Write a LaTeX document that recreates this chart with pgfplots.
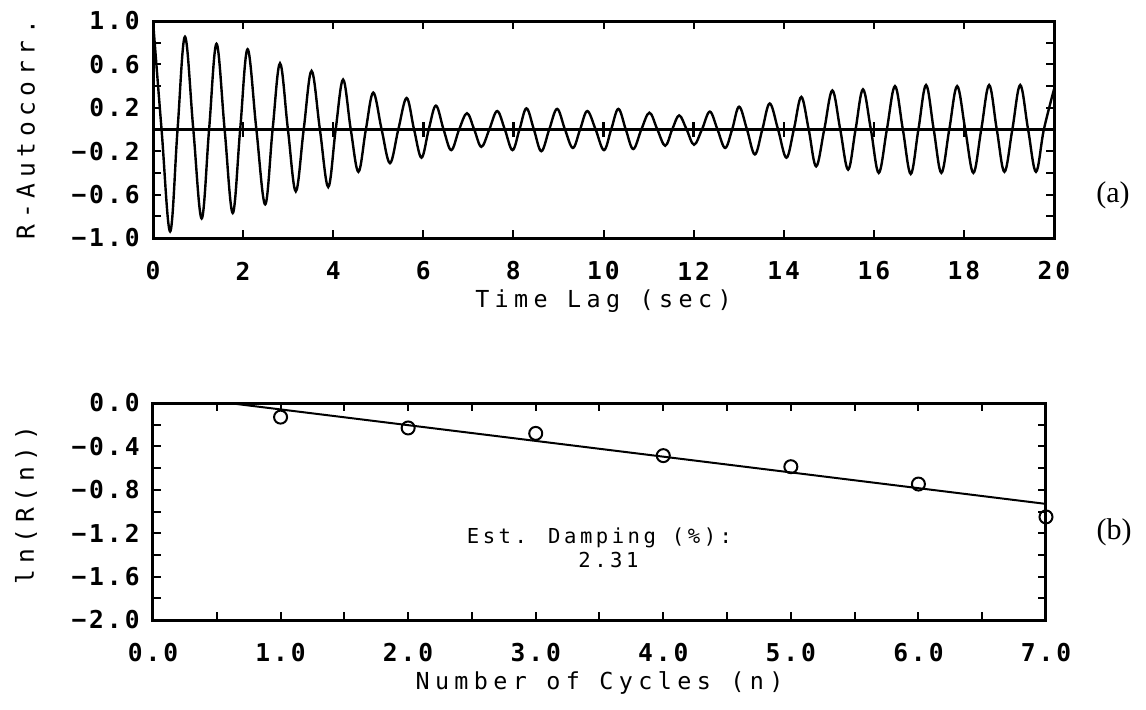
\documentclass[border=0pt]{standalone}
\usepackage{pgfplots}
\pgfplotsset{compat=1.18}
\usepackage{fontspec}
\setmainfont{DejaVu Sans Mono}
\newfontfamily\tickfont[LetterSpace=12]{DejaVu Sans Mono}
\newfontfamily\labfont[LetterSpace=23]{DejaVu Sans Mono}
\newfontfamily\estfont[LetterSpace=17]{DejaVu Sans Mono}
\newfontfamily\capfont{Liberation Serif}
\begin{document}
\begin{tikzpicture}
\useasboundingbox (0,0) rectangle (573pt,354.5pt);
\pgfplotsset{
  common/.style={
    scale only axis,
    axis line style={line width=1.5pt},
    tick style={line width=1pt, black},
    major tick length=4pt, minor tick length=4pt,
    tick align=inside,
    xticklabel style={font=\tickfont\bfseries\fontsize{12.3}{14}\selectfont, anchor=center, yshift=-16.5pt},
    yticklabel style={font=\tickfont\bfseries\fontsize{12.3}{14}\selectfont, anchor=east, inner sep=0pt, xshift=-6.5pt},
    xlabel style={font=\labfont\fontsize{11.7}{14}\selectfont, at={(axis description cs:0.5,0)}, anchor=center, yshift=-31.5pt},
    ylabel style={font=\labfont\fontsize{12.3}{14}\selectfont, anchor=center, rotate=0},
  }
}
% ---------- (a) ----------
\begin{axis}[common,
  at={(76.5pt,235.5pt)}, anchor=south west,
  width=450.5pt, height=108.5pt,
  xmin=0, xmax=20, ymin=-1, ymax=1,
  xtick={0,2,...,20}, xticklabels={0,2,4,6,8,10,12,14,16,18,20},
  ytick={-1,-0.6,-0.2,0.2,0.6,1},
  yticklabels={−1.0,−0.6,−0.2,0.2,0.6,1.0},
  minor ytick={-0.8,-0.4,0,0.4,0.8},
  xlabel={Time Lag (sec)},
  ylabel={R-Autocorr.},
  ylabel style={at={(axis description cs:-0.141,0.5)}},
]
\addplot[line width=1.2pt] coordinates {(0,0) (20,0)};
\addplot[line width=1.2pt, unbounded coords=jump] coordinates {
(2,-0.065) (2,0.065) (2,nan) (4,-0.065) (4,0.065) (4,nan) (6,-0.065) (6,0.065) (6,nan)
(8,-0.065) (8,0.065) (8,nan) (10,-0.065) (10,0.065) (10,nan) (12,-0.065) (12,0.065) (12,nan)
(14,-0.065) (14,0.065) (14,nan) (16,-0.065) (16,0.065) (16,nan) (18,-0.065) (18,0.065)};
\addplot[line width=1.2pt, smooth, tension=0.6] coordinates {
(0.00,1.00) (0.19,0) (0.38,-0.94) (0.545,0) (0.71,0.855) (0.895,0)
(1.08,-0.82) (1.245,0) (1.41,0.79) (1.59,0) (1.77,-0.77) (1.935,0)
(2.10,0.74) (2.295,0) (2.49,-0.69) (2.655,0) (2.82,0.61) (2.995,0)
(3.17,-0.57) (3.345,0) (3.52,0.54) (3.705,0) (3.89,-0.53) (4.055,0)
(4.22,0.46) (4.39,0) (4.56,-0.39) (4.725,0) (4.89,0.34) (5.075,0)
(5.26,-0.31) (5.445,0) (5.63,0.29) (5.795,0) (5.96,-0.26) (6.12,0)
(6.28,0.22) (6.45,0) (6.62,-0.19) (6.795,0) (6.97,0.15) (7.13,0)
(7.29,-0.16) (7.465,0) (7.64,0.17) (7.81,0) (7.98,-0.19) (8.135,0)
(8.29,0.195) (8.455,0) (8.62,-0.20) (8.795,0) (8.97,0.19) (9.145,0)
(9.32,-0.17) (9.48,0) (9.64,0.17) (9.825,0) (10.01,-0.19) (10.17,0)
(10.33,0.19) (10.495,0) (10.66,-0.18) (10.84,0) (11.02,0.155) (11.195,0)
(11.37,-0.15) (11.525,0) (11.68,0.13) (11.845,0) (12.01,-0.14) (12.185,0)
(12.36,0.165) (12.53,0) (12.70,-0.17) (12.855,0) (13.01,0.21) (13.185,0)
(13.36,-0.23) (13.525,0) (13.69,0.24) (13.875,0) (14.06,-0.26) (14.225,0)
(14.39,0.30) (14.555,0) (14.72,-0.34) (14.90,0) (15.08,0.36) (15.255,0)
(15.43,-0.37) (15.595,0) (15.76,0.37) (15.935,0) (16.11,-0.40) (16.29,0)
(16.47,0.40) (16.645,0) (16.82,-0.41) (16.99,0) (17.16,0.41) (17.33,0)
(17.50,-0.40) (17.675,0) (17.85,0.40) (18.03,0) (18.21,-0.40) (18.385,0)
(18.56,0.41) (18.73,0) (18.90,-0.39) (19.075,0) (19.25,0.41) (19.425,0)
(19.60,-0.39) (19.775,0) (20.00,0.37)};
\end{axis}
% ---------- (b) ----------
\begin{axis}[common,
  at={(76.5pt,44.5pt)}, anchor=south west,
  width=446.5pt, height=108.5pt,
  xmin=0, xmax=7, ymin=-2, ymax=0,
  xtick={0,1,...,7}, xticklabels={0.0,1.0,2.0,3.0,4.0,5.0,6.0,7.0},
  minor xtick={0.5,1.5,...,6.5},
  ytick={-2,-1.6,-1.2,-0.8,-0.4,0},
  yticklabels={−2.0,−1.6,−1.2,−0.8,−0.4,0.0},
  minor ytick={-1.8,-1.4,-1.0,-0.6,-0.2},
  xlabel={Number of Cycles (n)},
  ylabel={ln(R(n))},
  ylabel style={at={(axis description cs:-0.1422,0.53)}},
]
\addplot[line width=1pt] coordinates {(0,0.086) (7,-0.93)};
\addplot[only marks, mark=o, mark size=3.25pt, mark options={line width=1pt}] coordinates {
(1,-0.13) (2,-0.23) (3,-0.28) (4,-0.485) (5,-0.587) (6,-0.747) (7,-1.05)};
\node[font=\estfont\fontsize{10.3}{12}\selectfont] at (axis cs:3.50,-1.24) {Est. Damping (\%):};
\node[font=\estfont\fontsize{10.3}{12}\selectfont] at (axis cs:3.57,-1.445) {2.31};
\end{axis}
\node[font=\capfont\fontsize{15}{17}\selectfont] at (556.5pt,257pt) {(a)};
\node[font=\capfont\fontsize{15}{17}\selectfont] at (557pt,88.5pt) {(b)};
\end{tikzpicture}
\end{document}
